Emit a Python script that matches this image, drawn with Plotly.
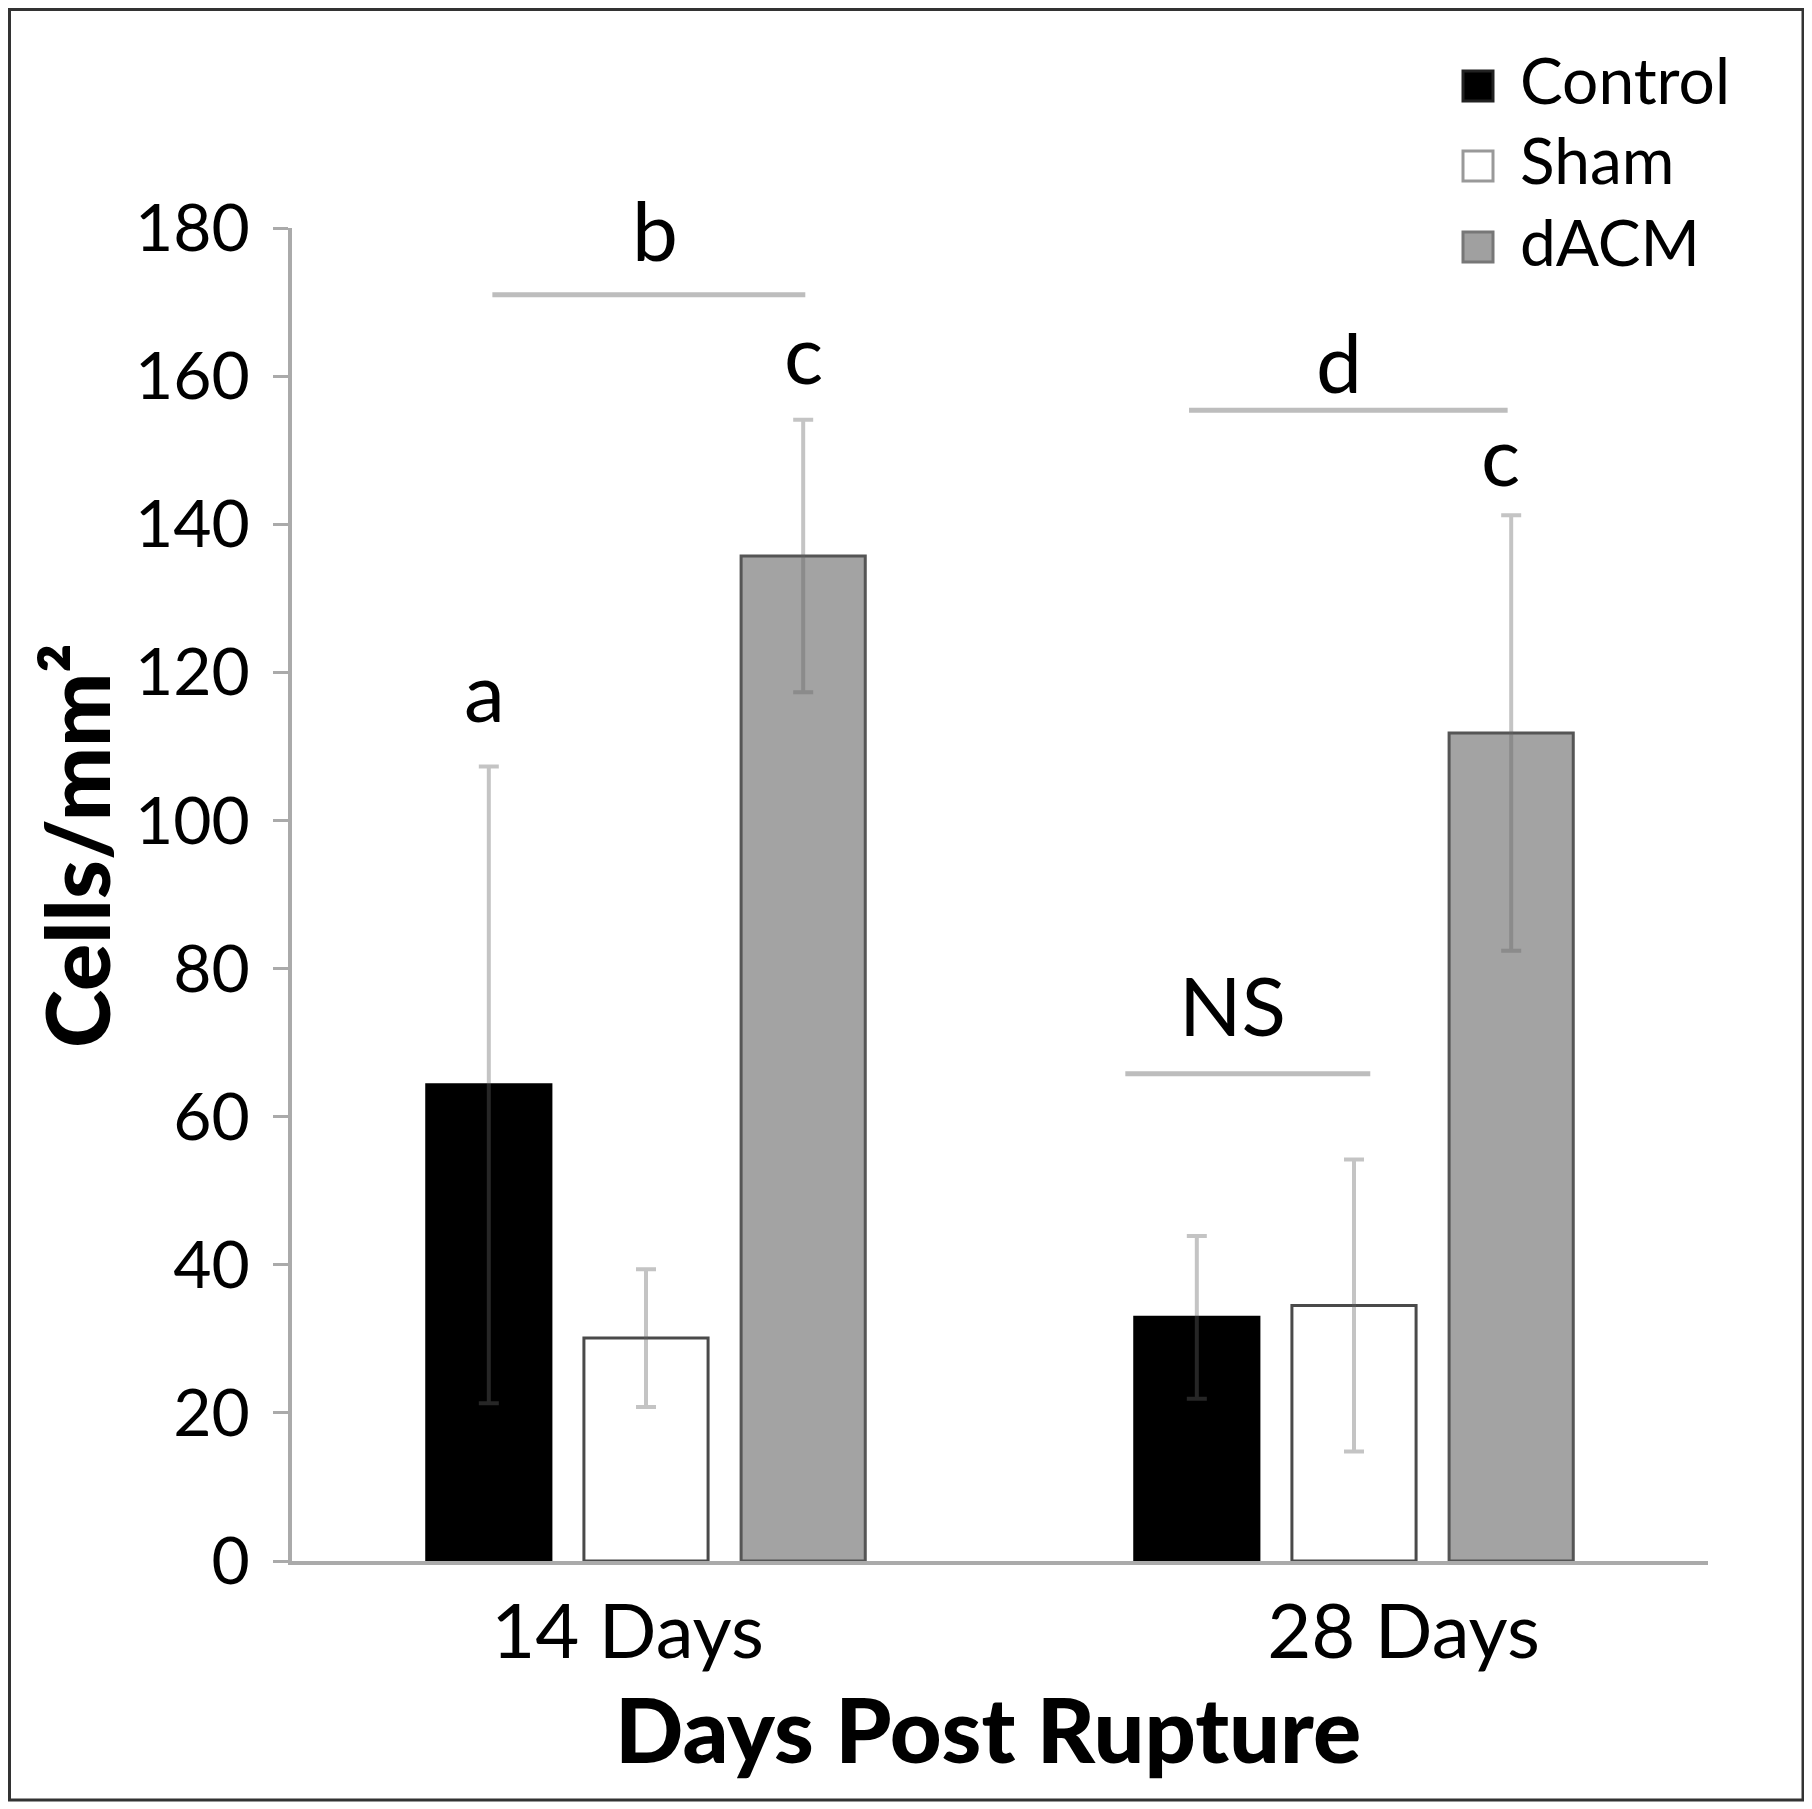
import plotly.graph_objects as go

categories = ["14 Days", "28 Days"]
series_names = ["Control", "Sham", "dACM"]
control_vals = [64.3, 32.9]
control_err = [43.0, 11.0]
sham_vals = [30.1, 34.5]
sham_err = [9.3, 19.7]
dacm_vals = [135.7, 111.8]
dacm_err = [18.4, 29.4]
y_ticks = [0, 20, 40, 60, 80, 100, 120, 140, 160, 180]

# significance annotations
sig_lines = [(-0.217, 0.225, 171.0), (0.767, 1.217, 155.4), (0.677, 1.023, 65.8)]
sig_labels = [("b", 0.013, 179.8), ("c", 0.223, 163.3), ("a", -0.228, 117.6),
              ("d", 0.979, 162.1), ("c", 1.207, 149.5), ("NS", 0.829, 75.2)]

# layout constants (style, not data)
TICK_SHIFT = [-0.026, 0.07]
fills = ["#000000", "#ffffff", "#a3a3a3"]
outlines = ["#000000", "#4a4a4a", "#555555"]
vals = [control_vals, sham_vals, dacm_vals]
errs = [control_err, sham_err, dacm_err]

FONT = "Lato"
OFF = 8  # page body margin
W, H = 1812, 1809
L, R, T, B = 292 - OFF, W - (1708 - OFF), 228 - OFF, H - (1561 - OFF)
PW, PH = W - L - R, H - T - B
BOTTOM = H - B


def px(xs):
    return (xs - OFF - L) / PW


def py(ys):
    return (BOTTOM - (ys - OFF)) / PH


xpos = list(range(len(categories)))

fig = go.Figure()
for name, v, e, fc, lc in zip(series_names, vals, errs, fills, outlines):
    fig.add_trace(go.Bar(
        x=xpos, y=v, name=name, showlegend=False,
        marker=dict(color=fc, line=dict(color=lc, width=3)),
        error_y=dict(type="data", array=e, visible=True,
                     color="rgba(100,100,100,0.38)", thickness=4, width=10),
    ))

shapes = []
for x0, x1, y in sig_lines:
    shapes.append(dict(type="line", xref="x", yref="y", x0=x0, x1=x1, y0=y, y1=y,
                       line=dict(color="#bdbdbd", width=5)))
# outer frame
shapes.append(dict(type="rect", xref="paper", yref="paper",
                   x0=px(9.5), x1=px(1803), y0=py(1800), y1=py(9.5),
                   line=dict(color="#333333", width=3), layer="below"))

annotations = []
for txt, x, y in sig_labels:
    annotations.append(dict(text=txt, x=x, y=y, xref="x", yref="y", showarrow=False,
                            font=dict(family=FONT, size=82, color="black"),
                            xanchor="center", yanchor="middle"))

# manual legend (large square swatches)
leg_y = [86, 166, 247]
leg_border = ["#222222", "#999999", "#777777"]
leg_fill = ["#000000", "#ffffff", "#a0a0a0"]
for name, yy, fc, bc in zip(series_names, leg_y, leg_fill, leg_border):
    cx = 1478
    shapes.append(dict(type="rect", xref="paper", yref="paper",
                       x0=px(cx - 15), x1=px(cx + 15), y0=py(yy + 15), y1=py(yy - 15),
                       fillcolor=fc, line=dict(color=bc, width=3)))
    annotations.append(dict(text=name, xref="paper", yref="paper",
                            x=px(1518), y=py(yy - 6),
                            xanchor="left", yanchor="middle", showarrow=False,
                            font=dict(family=FONT, size=64, color="black")))

# axis titles
annotations.append(dict(text="Cells/mm²", xref="paper", yref="paper",
                        x=px(76), y=py(846), textangle=-90,
                        xanchor="center", yanchor="middle", showarrow=False,
                        font=dict(family=FONT, size=88, color="black", weight=900)))
annotations.append(dict(text="Days Post Rupture", xref="paper", yref="paper",
                        x=px(988), y=py(1728),
                        xanchor="center", yanchor="middle", showarrow=False,
                        font=dict(family=FONT, size=90, color="black", weight=900)))

fig.update_layout(
    width=W, height=H,
    margin=dict(l=L, r=R, t=T, b=B),
    paper_bgcolor="white", plot_bgcolor="white",
    barmode="group", bargap=0.334, bargroupgap=0.21,
    shapes=shapes, annotations=annotations,
    showlegend=False,
    xaxis=dict(range=[-0.5, 1.5], showline=True, linecolor="#aaaaaa", linewidth=4,
               tickmode="array", tickvals=[p + s for p, s in zip(xpos, TICK_SHIFT)],
               ticktext=categories,
               ticks="", showgrid=False, zeroline=False,
               tickfont=dict(family=FONT, size=76, color="black"),
               ticklabelstandoff=2),
    yaxis=dict(range=[0, 180], tickvals=y_ticks, showline=True, linecolor="#aaaaaa",
               linewidth=4, ticks="outside", ticklen=15, tickwidth=3, tickcolor="#aaaaaa",
               showgrid=False, zeroline=False, ticklabelstandoff=10,
               tickfont=dict(family=FONT, size=66, color="black")),
)

fig.write_html("out.html")
